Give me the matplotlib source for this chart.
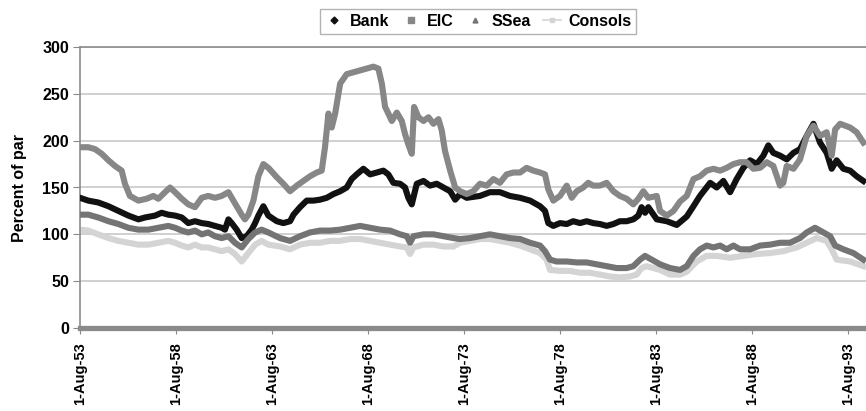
import matplotlib
matplotlib.use("Agg")
import matplotlib.pyplot as plt
import matplotlib.transforms as mtransforms
from matplotlib.lines import Line2D

plt.rcParams['font.family'] = ['Liberation Sans', 'DejaVu Sans']
plt.rcParams['font.weight'] = 'bold'

# ---- data (decimal years, percent of par) ----
bank_years = [1753.58, 1754.01, 1754.53, 1755.06, 1755.58, 1756.10, 1756.62, 1756.97, 1757.49, 1757.83,
              1758.18, 1758.53, 1758.88, 1759.22, 1759.57, 1759.92, 1760.26, 1760.61, 1760.96, 1761.13,
              1761.31, 1761.48, 1761.74, 1762.00, 1762.26, 1762.52, 1762.70, 1762.87, 1763.13, 1763.39,
              1763.83, 1764.17, 1764.52, 1764.70, 1765.04, 1765.39, 1765.74, 1766.08, 1766.43, 1766.78,
              1767.13, 1767.47, 1767.73, 1767.99, 1768.34, 1768.69, 1769.04, 1769.38, 1769.64, 1769.90,
              1770.25, 1770.51, 1770.68, 1770.86, 1771.12, 1771.47, 1771.81, 1772.16, 1772.51, 1772.86,
              1773.12, 1773.38, 1773.72, 1774.41, 1774.93, 1775.45, 1775.97, 1776.50, 1777.02, 1777.54,
              1777.80, 1777.97, 1778.23, 1778.58, 1778.93, 1779.27, 1779.62, 1779.97, 1780.31, 1780.66,
              1781.01, 1781.36, 1781.70, 1782.05, 1782.40, 1782.66, 1782.83, 1783.01, 1783.18, 1783.62,
              1784.14, 1784.66, 1785.18, 1785.53, 1785.87, 1786.40, 1786.74, 1787.09, 1787.44, 1787.78,
              1788.13, 1788.48, 1788.83, 1789.17, 1789.43, 1789.69, 1790.04, 1790.39, 1790.74, 1791.08,
              1791.43, 1791.78, 1792.12, 1792.47, 1792.73, 1792.99, 1793.34, 1793.69, 1794.03, 1794.38]
bank_values = [139, 136, 134, 130, 125, 120, 116, 118, 120, 123,
               121, 120, 118, 112, 114, 112, 111, 109, 107, 105,
               116, 112, 105, 96, 98, 105, 112, 120, 130, 120,
               114, 112, 114, 121, 129, 136, 136, 137, 139, 143,
               146, 150, 159, 164, 170, 164, 166, 168, 164, 155,
               154, 150, 139, 132, 154, 157, 152, 154, 150, 146,
               137, 143, 139, 141, 145, 145, 141, 139, 136, 130,
               125, 112, 109, 112, 111, 114, 112, 114, 112, 111,
               109, 111, 114, 114, 116, 120, 129, 123, 129, 116,
               114, 110, 119, 130, 141, 155, 150, 157, 145, 159,
               171, 179, 175, 184, 195, 187, 184, 180, 187, 191,
               205, 218, 198, 187, 170, 179, 170, 168, 162, 157]

eic_years = [1753.58, 1754.01, 1754.36, 1754.71, 1755.06, 1755.40, 1755.75, 1755.92, 1756.18, 1756.62,
             1757.05, 1757.40, 1757.66, 1758.01, 1758.27, 1758.53, 1758.88, 1759.22, 1759.57, 1759.92,
             1760.26, 1760.61, 1760.96, 1761.31, 1761.48, 1761.74, 1762.00, 1762.17, 1762.35, 1762.61,
             1762.87, 1763.13, 1763.39, 1763.83, 1764.17, 1764.52, 1764.87, 1765.22, 1765.56, 1765.91,
             1766.17, 1766.34, 1766.52, 1766.69, 1766.87, 1767.13, 1767.47, 1767.82, 1768.17, 1768.51,
             1768.86, 1769.12, 1769.30, 1769.47, 1769.64, 1769.82, 1770.08, 1770.34, 1770.51, 1770.68,
             1770.86, 1770.98, 1771.21, 1771.47, 1771.73, 1771.99, 1772.25, 1772.42, 1772.59, 1772.86,
             1773.12, 1773.38, 1773.72, 1774.06, 1774.41, 1774.76, 1775.11, 1775.45, 1775.80, 1776.15,
             1776.50, 1776.84, 1777.19, 1777.54, 1777.80, 1777.97, 1778.23, 1778.58, 1778.93, 1779.19,
             1779.45, 1779.79, 1780.05, 1780.31, 1780.66, 1781.01, 1781.36, 1781.70, 1782.05, 1782.40,
             1782.66, 1782.92, 1783.18, 1783.62, 1783.79, 1784.14, 1784.49, 1784.83, 1785.18, 1785.53,
             1785.87, 1786.22, 1786.57, 1786.92, 1787.26, 1787.61, 1787.96, 1788.30, 1788.65, 1789.00,
             1789.35, 1789.69, 1790.04, 1790.21, 1790.39, 1790.74, 1791.08, 1791.43, 1791.78, 1792.12,
             1792.47, 1792.73, 1792.91, 1793.17, 1793.69, 1794.03, 1794.38]
eic_values = [193, 193, 191, 186, 179, 173, 168, 154, 141, 136,
              138, 141, 138, 145, 150, 145, 138, 132, 129, 139,
              141, 139, 141, 145, 139, 130, 121, 116, 121, 136,
              162, 175, 171, 161, 154, 146, 152, 157, 162, 166,
              168, 193, 229, 214, 229, 261, 271, 273, 275, 277,
              279, 277, 261, 236, 229, 221, 230, 221, 207, 196,
              186, 236, 225, 221, 225, 218, 223, 211, 189, 168,
              150, 146, 143, 146, 154, 152, 159, 155, 164, 166,
              166, 171, 168, 166, 164, 148, 136, 141, 152, 139,
              146, 150, 155, 152, 152, 155, 146, 141, 138, 132,
              138, 146, 139, 141, 125, 120, 125, 135, 141, 159,
              162, 168, 170, 168, 171, 175, 177, 177, 170, 171,
              177, 173, 152, 155, 173, 170, 180, 205, 216, 205,
              209, 184, 212, 218, 214, 209, 198]

ssea_years = [1753.58, 1754.01, 1754.53, 1755.06, 1755.58, 1756.10, 1756.62, 1757.14, 1757.66, 1758.18,
              1758.53, 1758.88, 1759.22, 1759.57, 1759.92, 1760.26, 1760.61, 1760.96, 1761.31, 1761.65,
              1762.00, 1762.35, 1762.70, 1763.04, 1763.39, 1764.00, 1764.52, 1765.04, 1765.56, 1766.08,
              1766.61, 1767.13, 1767.65, 1768.17, 1768.69, 1769.21, 1769.73, 1770.25, 1770.60, 1770.77,
              1770.95, 1771.47, 1771.99, 1772.51, 1773.03, 1773.37, 1773.89, 1774.41, 1774.93, 1775.45,
              1775.97, 1776.50, 1777.02, 1777.54, 1777.80, 1778.06, 1778.40, 1778.93, 1779.45, 1779.97,
              1780.49, 1781.01, 1781.53, 1782.05, 1782.40, 1782.75, 1783.01, 1783.79, 1784.31, 1784.83,
              1785.18, 1785.53, 1785.87, 1786.22, 1786.57, 1786.92, 1787.26, 1787.61, 1787.96, 1788.48,
              1789.00, 1789.52, 1790.04, 1790.56, 1791.08, 1791.43, 1791.86, 1792.30, 1792.65, 1792.91,
              1793.34, 1793.86, 1794.38]
ssea_values = [121, 121, 118, 114, 111, 107, 105, 105, 107, 109,
               107, 104, 102, 104, 100, 102, 98, 96, 98, 91,
               86, 95, 102, 105, 102, 96, 93, 98, 102, 104,
               104, 105, 107, 109, 107, 105, 104, 100, 98, 91,
               98, 100, 100, 98, 96, 95, 96, 98, 100, 98,
               96, 95, 91, 88, 82, 73, 71, 71, 70, 70,
               68, 66, 64, 64, 66, 73, 77, 68, 64, 62,
               66, 77, 84, 88, 86, 88, 84, 88, 84, 84,
               88, 89, 91, 91, 96, 102, 107, 102, 98, 88,
               84, 80, 73]

consols_years = [1753.58, 1754.01, 1754.53, 1755.06, 1755.58, 1756.10, 1756.62, 1757.14, 1757.66, 1758.18,
                 1758.53, 1758.88, 1759.22, 1759.57, 1759.92, 1760.26, 1760.61, 1760.96, 1761.31, 1761.65,
                 1762.00, 1762.35, 1762.70, 1763.04, 1763.39, 1764.00, 1764.52, 1765.04, 1765.56, 1766.08,
                 1766.61, 1767.13, 1767.65, 1768.17, 1768.69, 1769.21, 1769.73, 1770.25, 1770.60, 1770.77,
                 1770.95, 1771.47, 1771.99, 1772.51, 1773.03, 1773.37, 1773.89, 1774.41, 1774.93, 1775.45,
                 1775.97, 1776.50, 1777.02, 1777.54, 1777.88, 1778.06, 1778.58, 1779.10, 1779.62, 1780.14,
                 1780.66, 1781.18, 1781.70, 1782.22, 1782.57, 1782.83, 1783.09, 1783.79, 1784.31, 1784.83,
                 1785.18, 1785.70, 1786.22, 1786.74, 1787.44, 1788.13, 1788.83, 1789.52, 1790.21, 1790.91,
                 1791.43, 1791.95, 1792.47, 1792.73, 1792.99, 1793.69, 1794.38]
consols_values = [105, 104, 100, 96, 93, 91, 89, 89, 91, 93,
                  91, 88, 86, 89, 86, 86, 84, 82, 84, 79,
                  71, 80, 89, 93, 89, 87, 84, 89, 91, 91,
                  93, 93, 95, 95, 93, 91, 89, 87, 86, 79,
                  86, 89, 89, 87, 87, 91, 93, 95, 95, 93,
                  91, 88, 84, 80, 73, 62, 61, 61, 59, 59,
                  57, 55, 54, 55, 57, 64, 66, 62, 57, 57,
                  60, 71, 77, 77, 75, 77, 79, 80, 82, 86,
                  91, 96, 93, 84, 73, 71, 66]

tick_years = [1753.58, 1758.58, 1763.58, 1768.58, 1773.58, 1778.58, 1783.58, 1788.58, 1793.58]
tick_labels = ['1-Aug-53', '1-Aug-58', '1-Aug-63', '1-Aug-68', '1-Aug-73',
               '1-Aug-78', '1-Aug-83', '1-Aug-88', '1-Aug-93']
series_names = ['Bank', 'EIC', 'SSea', 'Consols']

# ---- figure ----
W, H = 866, 411
fig = plt.figure(figsize=(W / 100, H / 100), dpi=100)
left, right, top, bottom = 80, 866, 47, 328
ax = fig.add_axes([left / W, 1 - bottom / H, (right - left) / W, (bottom - top) / H])

c_bank, c_eic, c_ssea, c_cons = '#111111', '#878787', '#747474', '#d4d4d4'
lw = 4.4
ax.plot(bank_years, bank_values, color=c_bank, lw=lw, solid_joinstyle='round', zorder=3)
ax.plot(eic_years, eic_values, color=c_eic, lw=lw, solid_joinstyle='round', zorder=4)
ax.plot(ssea_years, ssea_values, color=c_ssea, lw=lw, solid_joinstyle='round', zorder=5)
ax.plot(consols_years, consols_values, color=c_cons, lw=lw, solid_joinstyle='round', zorder=2)

ax.set_xlim(1753.58, 1753.58 + (right - left) / 19.2)
ax.set_ylim(0, 300)
ax.set_yticks(range(0, 301, 50))
ax.set_xticks(tick_years)
ax.set_xticklabels(tick_labels, rotation=90, fontsize=10.5, fontweight='bold')
shift = mtransforms.ScaledTranslation(5 / 100, 0, fig.dpi_scale_trans)
for lab in ax.get_xticklabels():
    lab.set_transform(lab.get_transform() + shift)
ax.tick_params(axis='y', labelsize=11.5, length=5, color='#888888', pad=3)
ax.tick_params(axis='x', length=4, color='#888888', pad=6)
for lab in ax.get_yticklabels():
    lab.set_fontweight('bold')

ax.grid(axis='y', color='#c8c8c8', lw=1.2)
ax.set_axisbelow(True)
ax.spines['right'].set_visible(False)
ax.spines['top'].set_color('#8c8c8c')
ax.spines['top'].set_linewidth(1.2)
ax.spines['left'].set_color('#8c8c8c')
ax.spines['left'].set_linewidth(1.2)
ax.spines['bottom'].set_color('#8a8a8a')
ax.spines['bottom'].set_linewidth(3.8)

ax.set_ylabel('Percent of par', fontsize=11.5, fontweight='bold', labelpad=11)

handles = [
    Line2D([], [], color=c_bank, marker='D', markersize=3.5, linestyle='none'),
    Line2D([], [], color=c_eic, marker='s', markersize=4, linestyle='none'),
    Line2D([], [], color=c_ssea, marker='^', markersize=3.5, linestyle='none'),
    Line2D([], [], color=c_cons, marker='s', markersize=3, linestyle='-', lw=1.2),
]
leg = fig.legend(handles, series_names, loc='center', bbox_to_anchor=(478 / W, 1 - 21.5 / H),
                 ncol=4, frameon=True, fancybox=False, edgecolor='#a0a0a0',
                 prop={'weight': 'bold', 'size': 11.5}, handlelength=1.1, handletextpad=0.45,
                 columnspacing=0.8, borderpad=0.3)
leg.get_frame().set_linewidth(1.0)

fig.savefig('out.png', dpi=100)
